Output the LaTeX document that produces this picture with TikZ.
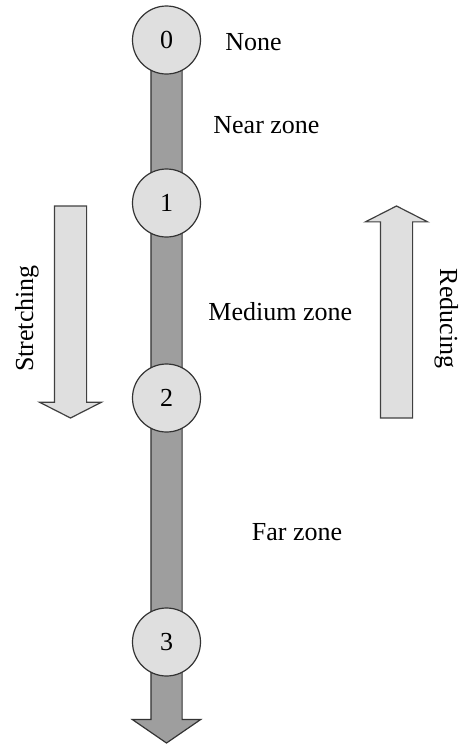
\documentclass[tikz,border=0pt]{standalone}
\usepackage{fontspec}
\setmainfont{Liberation Serif}
\usetikzlibrary{positioning,shapes.arrows,backgrounds}
\tikzset{zone node/.style={circle,draw=black!80,fill=gray!25,line width=0.6pt,minimum size=34pt,inner sep=0pt},
  axis arrow/.style={single arrow,draw=black!80,fill=black!38,line width=0.6pt,inner xsep=0pt,inner ysep=7.5pt,outer sep=0pt,
    single arrow head extend=9.25pt,single arrow tip angle=111,anchor=tail},
  side arrow/.style={single arrow,draw=black!75,fill=gray!25,line width=0.6pt,inner xsep=0pt,inner ysep=7.75pt,outer sep=0pt,
    single arrow head extend=7.5pt,single arrow tip angle=126,minimum height=106pt,anchor=tail},
  label/.style={anchor=base west,inner sep=0pt} }

\begin{document}
\begin{tikzpicture}[x=0.5pt,y=-0.5pt,font=\fontsize{13}{15}\selectfont]
\useasboundingbox (0,0) rectangle (463,745);
\begin{scope}[on grid]

  \node[zone node] (0) at (166.5,40) {0};
  \node[zone node] (1) [below = 81.5pt of 0] {1};
  \node[zone node] (2) [below = 97.5pt of 1] {2};
  \node[zone node] (3) [below = 122pt of 2] {3};

  % axis behind the circles
  \begin{pgfonlayer}{background}
    \node[axis arrow,rotate=-90,minimum height=351.5pt] (axis) at (0.center) {};
  \end{pgfonlayer}

  \node[label] (none) at (225,50) {None};
  \node[label] (near) at (213,133) {Near zone};
  \node[label] (medium) at (208,320) {Medium zone};
  \node[label] (far) at (251.5,540) {Far zone};

  \node[side arrow,rotate=-90] (stretch) at (70.5,206) {};
  \node[side arrow,rotate=90] (reduce) at (396.5,418) {};
  \node[anchor=base,inner sep=0pt,rotate=90] (stretchtext) at (33,318.5) {Stretching};
  \node[anchor=base,inner sep=0pt,rotate=-90] (reducetext) at (440,318.5) {Reducing};

\end{scope}
\end{tikzpicture}
\end{document}
